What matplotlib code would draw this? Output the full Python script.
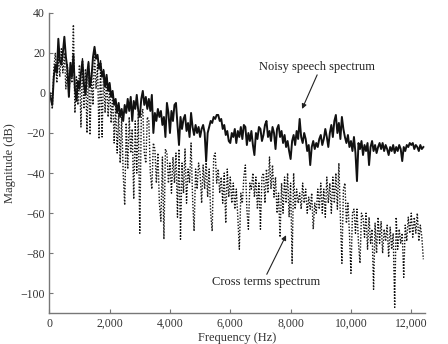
import numpy as np
import matplotlib
matplotlib.use("Agg")
import matplotlib.pyplot as plt
from matplotlib.ticker import FuncFormatter

# Frequency bins (Hz), 50 Hz spacing
freq_hz = np.arange(0, 12450, 50)

# Magnitude of the noisy speech spectrum (dB)
noisy_db = [
    0, -3, -6, 8, 14, 10, 27, 16, 14, 20, 28, 18, 12, -2, 15, 8, 19, 2, -4, 6,
    2, 10, 16, 4, -1, 9, 15, 3, 8, 18, 23, 17, 19, 12, 15, 8, 11, 3, 9, 1,
    5, -2, 1, -6, -3, -10, -5, -12, -8, -14, -6, -10, -3, -9, -2, -14, -4, -8, -1, -9,
    -12, -3, 1, -6, -2, -8, -3, -9, -1, -20, -10, -14, -8, -12, -9, -16, -12, -22, -5, -10,
    -20, -9, -14, -6, -5, -16, -26, -12, -18, -13, -11, -19, -15, -22, -10, -17, -21, -16, -20, -17,
    -22, -18, -16, -20, -34, -20, -17, -14, -15, -12, -13, -11, -11, -14, -13, -18, -16, -21, -19, -24,
    -25, -20, -22, -18, -25, -19, -22, -17, -23, -16, -17, -26, -20, -24, -19, -26, -31, -20, -23, -17,
    -18, -24, -21, -16, -14, -22, -19, -24, -17, -20, -28, -18, -16, -22, -19, -25, -21, -27, -24, -29,
    -33, -24, -21, -26, -19, -23, -13, -22, -25, -20, -23, -29, -26, -36, -27, -24, -28, -25, -27, -23,
    -21, -26, -23, -18, -22, -27, -20, -16, -22, -14, -11, -20, -15, -23, -12, -18, -22, -25, -21, -27,
    -24, -29, -22, -30, -44, -25, -28, -24, -31, -26, -29, -25, -36, -27, -24, -29, -26, -30, -27, -25,
    -28, -25, -29, -26, -28, -31, -27, -29, -26, -30, -27, -29, -26, -28, -34, -27, -29, -26, -27, -25,
    -26, -25, -28, -26, -27, -29, -26, -28, -27,
]

# Magnitude of the cross terms spectrum (dB)
cross_db = [
    -5, 0, -8, 12, 20, 5, 18, 8, 22, 10, 20, 2, 14, -2, 12, 5, 34, -10, 8, -6,
    14, -17, 17, -8, 12, -20, 16, -21, 10, -6, 20, 2, 14, -23, 16, -22, 12, -10, 8, -12,
    4, -15, 0, -25, -6, -30, -10, -35, -12, -40, -56, -15, -38, -12, -30, -18, -53, -14, -40, -10,
    -70, -12, -8, -30, -35, -12, -14, -40, -48, -25, -28, -45, -30, -55, -64, -32, -73, -28, -30, -45,
    -35, -50, -32, -45, -30, -62, -28, -73, -35, -50, -28, -55, -38, -45, -25, -52, -69, -38, -48, -35,
    -40, -55, -36, -48, -34, -52, -38, -60, -69, -32, -30, -45, -38, -50, -42, -55, -40, -65, -38, -52,
    -42, -55, -45, -58, -48, -62, -78, -50, -55, -42, -36, -58, -68, -45, -48, -40, -52, -42, -58, -45,
    -68, -42, -40, -55, -38, -50, -32, -48, -36, -52, -42, -60, -50, -72, -45, -60, -42, -55, -40, -62,
    -45, -85, -40, -58, -48, -55, -50, -58, -45, -55, -48, -60, -52, -58, -50, -68, -55, -60, -48, -58,
    -45, -60, -48, -62, -42, -55, -45, -60, -42, -55, -40, -58, -35, -62, -85, -48, -45, -65, -55, -70,
    -90, -60, -58, -70, -58, -75, -85, -60, -62, -72, -60, -78, -62, -75, -68, -98, -65, -80, -62, -75,
    -64, -80, -68, -74, -66, -82, -67, -78, -70, -107, -62, -78, -68, -75, -70, -92, -66, -74, -62, -70,
    -60, -72, -62, -70, -60, -74, -66, -72, -83,
]

x_ticks = [0, 2000, 4000, 6000, 8000, 10000, 12000]
y_ticks = [-100, -80, -60, -40, -20, 0, 20, 40]

plt.rcParams["font.family"] = ["Liberation Serif", "DejaVu Serif"]

fig = plt.figure(figsize=(4.48, 3.44), dpi=100)
ax = fig.add_axes([0.110, 0.089, 0.839, 0.874])

ax.plot(freq_hz, cross_db, color="#111111", lw=1.0, ls=(0, (1, 1.2)))
ax.plot(freq_hz, noisy_db, color="#111111", lw=1.4, ls="-")

ax.set_xlim(0, 12460)
ax.set_ylim(-110, 40)
ax.set_xticks(x_ticks)
ax.set_yticks(y_ticks)
ax.xaxis.set_major_formatter(FuncFormatter(lambda v, p: f"{int(v):,}"))
ax.yaxis.set_major_formatter(FuncFormatter(lambda v, p: f"{int(v)}".replace("-", "\u2212")))

for side in ("top", "right"):
    ax.spines[side].set_visible(False)
for side in ("left", "bottom"):
    ax.spines[side].set_color("#777777")
    ax.spines[side].set_linewidth(1.0)
ax.tick_params(direction="in", length=3, width=0.8, color="#777777",
               labelsize=8.5, labelcolor="#333333", pad=3)

ax.set_xlabel("Frequency (Hz)", fontsize=9, color="#333333", labelpad=2)
ax.set_ylabel("Magnitude (dB)", fontsize=9, color="#333333", labelpad=3)

arrow = dict(arrowstyle="-|>", color="#222222", lw=0.8, mutation_scale=7,
             shrinkA=0, shrinkB=0)
ax.annotate("", xy=(8380, -8), xytext=(8880, 9), arrowprops=arrow)
ax.text(8880, 12.9, "Noisy speech spectrum", fontsize=9, color="#222222",
        ha="center", va="center")
ax.annotate("", xy=(7850, -71), xytext=(7210, -90.5), arrowprops=arrow)
ax.text(7170, -94.2, "Cross terms spectrum", fontsize=9, color="#222222",
        ha="center", va="center")

fig.savefig("out.png", dpi=100)
